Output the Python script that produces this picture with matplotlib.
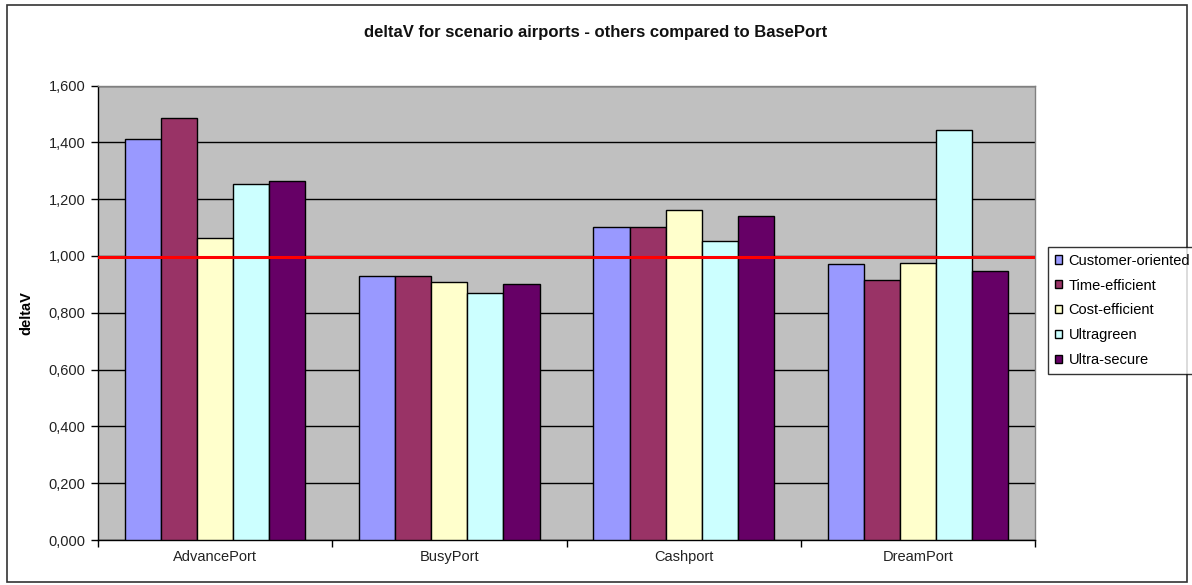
import numpy as np
import matplotlib
matplotlib.use("Agg")
import matplotlib.pyplot as plt
from matplotlib.patches import Rectangle
from matplotlib.ticker import FuncFormatter, FixedLocator

plt.rcParams["font.family"] = ["Liberation Sans", "DejaVu Sans"]

ports = ["AdvancePort", "BusyPort", "Cashport", "DreamPort"]
scenarios = ["Customer-oriented", "Time-efficient", "Cost-efficient", "Ultragreen", "Ultra-secure"]
colors = ["#9999FF", "#993366", "#FFFFCC", "#CCFFFF", "#660066"]

customer_oriented = [1.410, 0.929, 1.103, 0.971]
time_efficient = [1.486, 0.929, 1.103, 0.915]
cost_efficient = [1.062, 0.910, 1.160, 0.976]
ultragreen = [1.254, 0.868, 1.051, 1.443]
ultra_secure = [1.265, 0.902, 1.142, 0.948]
series = [customer_oriented, time_efficient, cost_efficient, ultragreen, ultra_secure]

baseport_level = 0.995
yticks = [0.0, 0.2, 0.4, 0.6, 0.8, 1.0, 1.2, 1.4, 1.6]

fig = plt.figure(figsize=(11.92, 5.85), dpi=100)
ax = fig.add_axes([98 / 1192, 1 - 540 / 585, (1035 - 98) / 1192, (540 - 85.5) / 585])
ax.set_facecolor("#C0C0C0")

x = np.arange(len(ports))
bw = 0.154
for i, (vals, c, name) in enumerate(zip(series, colors, scenarios)):
    ax.bar(x + (i - 2) * bw, vals, bw, color=c, edgecolor="black", linewidth=1.0,
           label=name, zorder=3)

ax.axhline(baseport_level, color="#FF0000", linewidth=2.2, zorder=4)

ax.set_xlim(-0.5, len(ports) - 0.5)
ax.set_ylim(0, 1.6)
ax.set_yticks(yticks)
ax.yaxis.set_major_formatter(FuncFormatter(lambda v, p: f"{v:.3f}".replace(".", ",")))
ax.grid(axis="y", color="black", linewidth=1.0, zorder=1)
ax.set_axisbelow(True)

# category labels in the middle, tick marks on the group boundaries
ax.set_xticks(x)
ax.set_xticklabels(ports)
ax.tick_params(axis="x", which="major", length=0, pad=7)
ax.xaxis.set_minor_locator(FixedLocator(np.arange(len(ports) + 1) - 0.5))
ax.tick_params(axis="x", which="minor", length=5, width=1, color="black")
ax.tick_params(axis="y", length=5, width=1, color="black", pad=4)
ax.tick_params(labelsize=10.5, labelcolor="#222222")

for s in ["left", "bottom"]:
    ax.spines[s].set_color("black")
    ax.spines[s].set_linewidth(1.0)
for s in ["top", "right"]:
    ax.spines[s].set_color("#808080")
    ax.spines[s].set_linewidth(1.0)

ax.set_ylabel("deltaV", fontsize=10.5, fontweight="bold")
ax.yaxis.set_label_coords(-0.0694, 0.5)

fig.text(0.5, 1 - 33 / 585, "deltaV for scenario airports - others compared to BasePort",
         ha="center", va="center", fontsize=12, fontweight="bold", color="#111111")

leg = fig.legend(loc="upper left", bbox_to_anchor=(1048 / 1192, 1 - 247 / 585),
                 fontsize=10.5, frameon=True, fancybox=False, handlelength=0.5,
                 handleheight=0.5, handletextpad=0.45, labelspacing=0.75,
                 borderpad=0.45, borderaxespad=0)
leg.get_frame().set_edgecolor("black")
leg.get_frame().set_linewidth(1.0)

# outer chart border
fig.patches.append(Rectangle((7 / 1192, 3 / 585), 1 - 12 / 1192, 1 - 8 / 585,
                             transform=fig.transFigure, fill=False,
                             edgecolor="#333333", linewidth=1.2))

fig.savefig("out.png", dpi=100)
